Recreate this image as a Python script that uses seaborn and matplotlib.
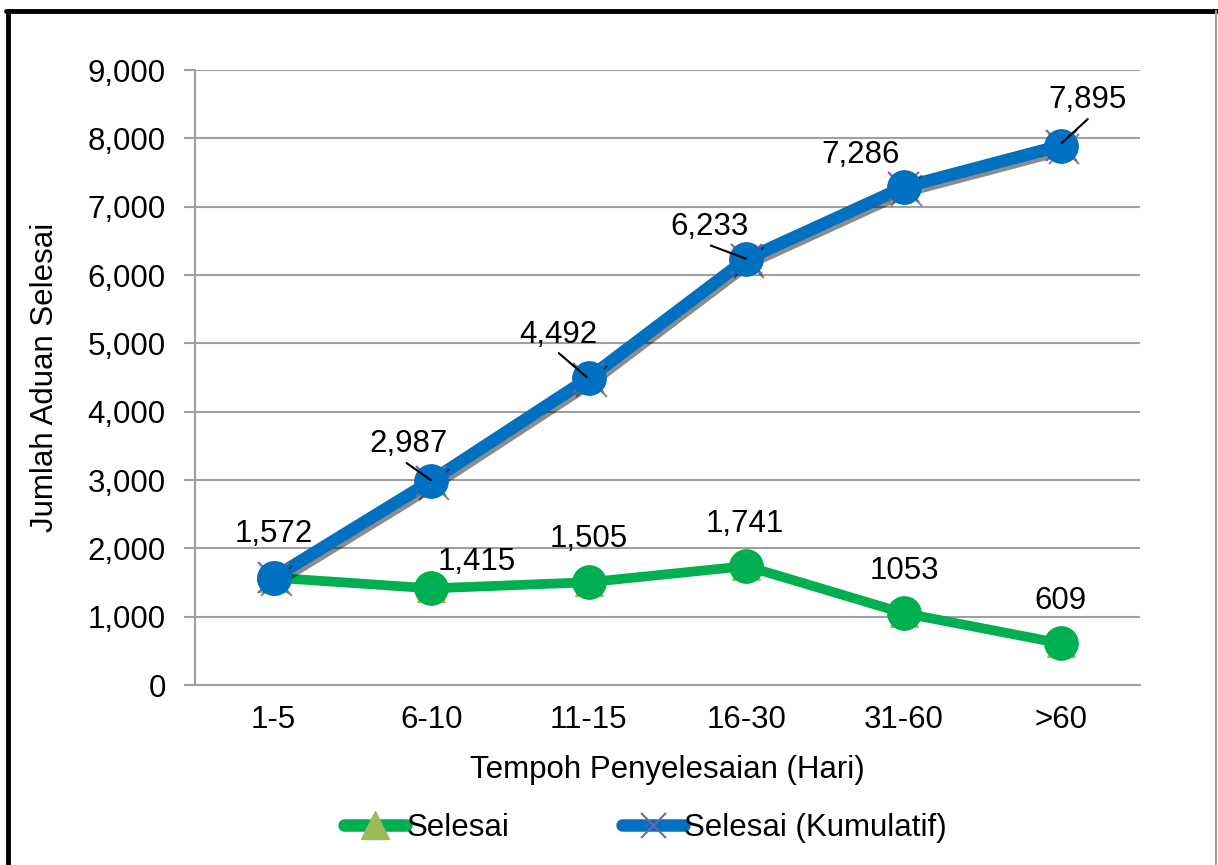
import matplotlib
matplotlib.use("Agg")
import matplotlib.pyplot as plt
import matplotlib.patheffects as pe
from matplotlib.lines import Line2D
import pandas as pd
import seaborn as sns

# --- DATA ---
kategori = ['1-5', '6-10', '11-15', '16-30', '31-60', '>60']
selesai = [1572, 1415, 1505, 1741, 1053, 609]
kumulatif = [1572, 2987, 4492, 6233, 7286, 7895]
label_selesai = ['1,415', '1,505', '1,741', '1053', '609']
label_kumulatif = ['1,572', '2,987', '4,492', '6,233', '7,286', '7,895']
y_ticks = [0, 1000, 2000, 3000, 4000, 5000, 6000, 7000, 8000, 9000]

df = pd.DataFrame({'Tempoh': kategori, 'Selesai': selesai, 'Kumulatif': kumulatif})
df['x'] = range(len(kategori))

sns.set_theme(style="white")
plt.rcParams['font.family'] = ['Liberation Sans', 'DejaVu Sans']
plt.rcParams['text.color'] = 'black'
plt.rcParams['axes.labelcolor'] = 'black'
plt.rcParams['xtick.color'] = 'black'
plt.rcParams['ytick.color'] = 'black'

HIJAU = '#00B050'
BIRU = '#0070C0'
GRID = '#A0A0A0'
FS = 22.5

fig = plt.figure(figsize=(12.18, 8.65), dpi=100)
ax = fig.add_axes([0.160, 0.208, 0.776, 0.711])

for y in y_ticks[1:]:
    ax.axhline(y, color=GRID, lw=1.5, zorder=0)

# garis Selesai
sns.lineplot(data=df, x='x', y='Selesai', ax=ax, color=HIJAU, lw=7, marker='^',
             markersize=20, markerfacecolor='#9BBB59', markeredgecolor='#9BBB59', zorder=3)
ax.plot(df['x'], df['Selesai'], 'o', color=HIJAU, markersize=24, zorder=4)

# garis Kumulatif (dengan bayang)
sns.lineplot(data=df, x='x', y='Kumulatif', ax=ax, color=BIRU, lw=9, marker='x',
             markersize=22, markeredgecolor='#7F5FA8', mew=1.5, zorder=5,
             path_effects=[pe.SimpleLineShadow(offset=(2, -2.5), alpha=0.45, shadow_color='black'),
                           pe.Normal()])
ax.plot(df['x'], df['Kumulatif'], 'o', color=BIRU, markersize=24, zorder=6)

# label data (kumulatif)
pos_k = [(0.0, 2093), (0.857, 3410), (1.81, 5005), (2.768, 6585), (3.727, 7639), (5.168, 8444)]
for (px, py), lab in zip(pos_k, label_kumulatif):
    ax.text(px, py, lab, ha='center', va='baseline', fontsize=FS, zorder=8)
# garis penunjuk
ax.plot([0.844, 0.997], [3249, 3000], color='black', lw=1.5, zorder=8)
ax.plot([1.81, 1.987], [4858, 4507], color='black', lw=1.5, zorder=8)
ax.plot([2.775, 2.997], [6432, 6240], color='black', lw=1.5, zorder=8)
ax.plot([5.168, 5.003], [8283, 7932], color='black', lw=1.5, zorder=8)

# label data (selesai)
pos_s = [(1.289, 1683), (2.0, 2019), (2.99, 2239), (4.006, 1551), (4.997, 1112)]
for (px, py), lab in zip(pos_s, label_selesai):
    ax.text(px, py, lab, ha='center', va='baseline', fontsize=FS, zorder=8)

# paksi
ax.set_xlim(-0.5, 5.5)
ax.set_ylim(0, 9000)
ax.set_yticks(y_ticks)
ax.set_yticklabels([f'{v:,}' for v in y_ticks], fontsize=FS)
ax.set_xticks(range(len(kategori)))
ax.set_xticklabels(kategori, fontsize=FS)
ax.set_xticks([i - 0.5 for i in range(len(kategori) + 1)], minor=True)
ax.tick_params(axis='x', which='major', length=0, pad=14)
ax.tick_params(axis='x', which='minor', length=8, color=GRID, width=1.5, direction='out')
ax.tick_params(axis='y', length=8, color=GRID, width=1.5, direction='out', left=True, pad=13)
for s in ['top', 'right']:
    ax.spines[s].set_visible(False)
for s in ['left', 'bottom']:
    ax.spines[s].set_color(GRID)
    ax.spines[s].set_linewidth(1.5)
ax.set_xlabel('Tempoh Penyelesaian (Hari)', fontsize=FS, labelpad=15)
ax.set_ylabel('Jumlah Aduan Selesai', fontsize=FS, labelpad=20)

handles = [
    Line2D([], [], color=HIJAU, lw=9, solid_capstyle='round', marker='^', markersize=20,
           markerfacecolor='#9BBB59', markeredgecolor='#9BBB59'),
    Line2D([], [], color=BIRU, lw=9, solid_capstyle='round', marker='x', markersize=18,
           markeredgecolor='#7F5FA8', mew=1.5),
]
fig.legend(handles, ['Selesai', 'Selesai (Kumulatif)'], loc='center', bbox_to_anchor=(0.53, 0.043),
           ncol=2, frameon=False, fontsize=FS, handlelength=2.0, handletextpad=0.0,
           columnspacing=3.6)

# bingkai
fig.add_artist(Line2D([0.0065, 0.0065], [0.0, 0.987], color='black', lw=3.5, transform=fig.transFigure))
fig.add_artist(Line2D([0.0050, 0.999], [0.987, 0.987], color='black', lw=3.5, transform=fig.transFigure))
fig.add_artist(Line2D([0.9985, 0.9985], [0.0, 0.987], color=GRID, lw=1.5, transform=fig.transFigure))

fig.savefig('out.png', dpi=100)
